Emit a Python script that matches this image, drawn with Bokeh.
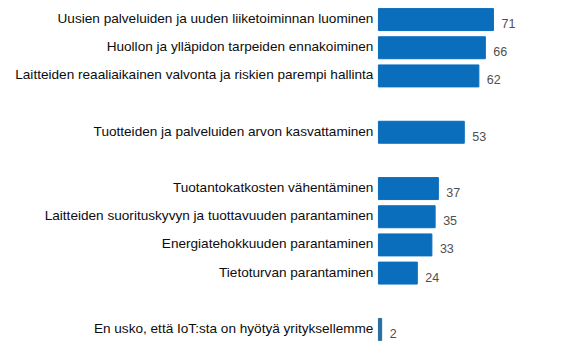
from bokeh.plotting import figure
from bokeh.models import FactorRange, ColumnDataSource, Range1d
from bokeh.core.properties import value
from bokeh.embed import file_html
from bokeh.resources import INLINE

groups = ["g1", "g1", "g1", "g2", "g3", "g3", "g3", "g3", "g4"]
categories = [
    "Uusien palveluiden ja uuden liiketoiminnan luominen",
    "Huollon ja ylläpidon tarpeiden ennakoiminen",
    "Laitteiden reaaliaikainen valvonta ja riskien parempi hallinta",
    "Tuotteiden ja palveluiden arvon kasvattaminen",
    "Tuotantokatkosten vähentäminen",
    "Laitteiden suorituskyvyn ja tuottavuuden parantaminen",
    "Energiatehokkuuden parantaminen",
    "Tietoturvan parantaminen",
    "En usko, että IoT:sta on hyötyä yrityksellemme",
]
values = [71, 66, 62, 53, 37, 35, 33, 24, 2]
colors = ["#0A6EBD"] * 8 + ["#266F9E"]

factors = list(zip(groups, categories))
src = ColumnDataSource(dict(
    y=factors, v=values, cat=categories, lab=[str(v) for v in values], c=colors,
    zero=[0] * len(values),
))

yr = FactorRange(factors=factors[::-1], range_padding=0, group_padding=1.0,
                 factor_padding=0)

p = figure(width=572, height=352, output_backend="svg", toolbar_location=None,
           y_range=yr, x_range=Range1d(-233.3, 119.8),
           min_border_left=0, min_border_right=0, min_border_top=5,
           min_border_bottom=9)
p.axis.visible = False
p.grid.visible = False
p.outline_line_color = None
p.background_fill_color = "white"
p.border_fill_color = "white"

p.hbar(y="y", left=0, right="v", height=0.78, color="c", source=src)
p.text(x="zero", y="y", text="cat", source=src, text_align="right",
       text_baseline="middle", x_offset=-5, y_offset=-1,
       text_font=value("Liberation Sans"), text_font_size="13.6px",
       text_color="#0d0d0d")
p.text(x="v", y="y", text="lab", source=src, text_align="left",
       text_baseline="middle", x_offset=8, y_offset=4,
       text_font=value("Liberation Sans"), text_font_size="12.5px",
       text_color="#505050")

open("out.html", "w").write(file_html(p, INLINE))
